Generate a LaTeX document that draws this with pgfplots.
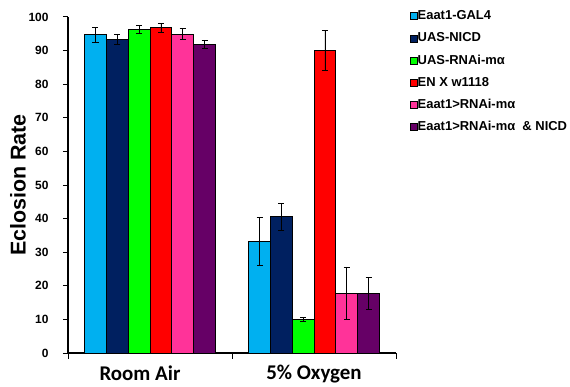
\documentclass[border=0pt]{standalone}
\usepackage{fontspec}
\setmainfont{Liberation Sans}
\newfontfamily\calibri{Carlito}
\usepackage{pgfplots}
\pgfplotsset{compat=1.18}
\definecolor{cA}{HTML}{00B0F0}
\definecolor{cB}{HTML}{002060}
\definecolor{cC}{HTML}{00FF00}
\definecolor{cD}{HTML}{FF0000}
\definecolor{cE}{HTML}{FF3399}
\definecolor{cF}{HTML}{660066}
\begin{document}
\begin{tikzpicture}
\useasboundingbox (-68bp,-34bp) rectangle (502bp,353bp);
\begin{axis}[
  at={(0,0)}, anchor=south west,
  scale only axis, width=328bp, height=336bp,
  ybar=0pt, bar width=21.8bp,
  xmin=-0.5, xmax=1.5, ymin=0, ymax=100,
  axis x line*=bottom, axis y line*=left,
  axis line style={line width=1.1pt, -},
  xtick={0,1}, xticklabels={\hspace*{-20bp}Room Air, 5\% Oxygen},
  major x tick style={draw=none},
  major tick length=5bp,
  tick align=outside,
  tick style={line width=1pt, black},
  ytick={0,10,...,100},
  /pgf/number format/assume math mode=true,
  yticklabel style={font=\bfseries\fontsize{12}{12}\selectfont, xshift=-11bp},
  xticklabel style={font=\calibri\bfseries\fontsize{21}{21}\selectfont, yshift=-4bp},
  ylabel={\fontsize{21.5}{21.5}\selectfont\bfseries Eclosion Rate},
  ylabel style={at={(rel axis cs:0,0.5)}, anchor=center, yshift=50bp},
  legend style={draw=none, fill=none, at={(rel axis cs:1.0427,1.021)}, anchor=north west, inner sep=0pt,
    font=\bfseries\fontsize{13}{13}\selectfont, row sep=10.2bp,
    nodes={inner sep=0pt, text height=9.5bp, text depth=2.5bp, anchor=west, xshift=2bp}},
  legend cell align=left,
  legend image code/.code={\draw[#1, draw=black, line width=0.5pt] (0bp,-3.5bp) rectangle (7bp,3.5bp);},
  error bars/error bar style={line width=0.8pt, black},
  error bars/error mark options={rotate=90, mark size=3bp, line width=0.8pt, black},
  clip=false,
]
\addplot[fill=cA, draw=black, line width=0.7pt, error bars/.cd, y dir=both, y explicit] coordinates {(0,94.7) +- (0,2.3) (1,33.2) +- (0,7.2)};
\addplot[fill=cB, draw=black, line width=0.7pt, error bars/.cd, y dir=both, y explicit] coordinates {(0,93.2) +- (0,1.5) (1,40.6) +- (0,4.0)};
\addplot[fill=cC, draw=black, line width=0.7pt, error bars/.cd, y dir=both, y explicit] coordinates {(0,96.2) +- (0,1.2) (1,10.0) +- (0,0.6)};
\addplot[fill=cD, draw=black, line width=0.7pt, error bars/.cd, y dir=both, y explicit] coordinates {(0,96.8) +- (0,1.3) (1,90.0) +- (0,6.0)};
\addplot[fill=cE, draw=black, line width=0.7pt, error bars/.cd, y dir=both, y explicit] coordinates {(0,94.9) +- (0,1.6) (1,17.8) +- (0,7.8)};
\addplot[fill=cF, draw=black, line width=0.7pt, error bars/.cd, y dir=both, y explicit] coordinates {(0,91.8) +- (0,1.2) (1,17.8) +- (0,4.8)};
\legend{Eaat1-GAL4, UAS-NICD, UAS-RNAi-mα, EN X w1118, Eaat1>RNAi-mα, Eaat1>RNAi-mα\ \ \& NICD}
\draw[line width=1pt] (axis cs:-0.5,0) -- ([yshift=-6bp]axis cs:-0.5,0);
\draw[line width=1pt] (axis cs:0.5,0) -- ([yshift=-6bp]axis cs:0.5,0);
\draw[line width=1pt] (axis cs:1.5,0) -- ([yshift=-6bp]axis cs:1.5,0);
\end{axis}
\end{tikzpicture}
\end{document}
